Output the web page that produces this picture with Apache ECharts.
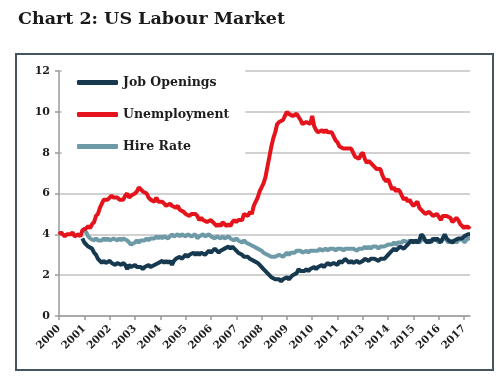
<!DOCTYPE html>
<html>
<head>
<meta charset="utf-8">
<script src="https://cdn.jsdelivr.net/npm/echarts@6/dist/echarts.min.js"></script>
<style>
html,body{margin:0;padding:0;background:#fff;}
#c{width:500px;height:381px;}
</style>
</head>
<body>
<div id="c"></div>
<script>
// Monthly categories: Jan 2000 .. Aug 2017
const startYear = 2000;
const monthCount = 212;
const categories = [];
for (let i = 0; i < monthCount; i++) {
  const y = startYear + Math.floor(i / 12);
  const m = (i % 12) + 1;
  categories.push(y + '-' + (m < 10 ? '0' + m : m));
}

const seriesNames = ['Job Openings', 'Unemployment', 'Hire Rate'];
const yTicks = [0, 2, 4, 6, 8, 10, 12];

// Unemployment rate, Jan 2000 .. Aug 2017
const unemployment = [
  4.0,4.1,4.0,3.9,4.0,4.0,4.0,4.1,3.9,3.9,4.0,3.9,
  4.2,4.2,4.3,4.4,4.3,4.5,4.6,4.9,5.0,5.3,5.5,5.7,
  5.7,5.7,5.7,5.9,5.8,5.8,5.8,5.7,5.7,5.7,5.9,6.0,
  5.8,5.9,5.9,6.0,6.1,6.3,6.2,6.1,6.1,6.0,5.8,5.7,
  5.7,5.6,5.8,5.6,5.6,5.6,5.5,5.4,5.4,5.5,5.4,5.4,
  5.3,5.4,5.2,5.2,5.1,5.0,5.0,4.9,5.0,5.0,5.0,4.9,
  4.7,4.8,4.7,4.7,4.6,4.6,4.7,4.7,4.5,4.4,4.5,4.4,
  4.6,4.5,4.4,4.5,4.4,4.6,4.7,4.6,4.7,4.7,4.7,5.0,
  5.0,4.9,5.1,5.0,5.4,5.6,5.8,6.1,6.1,6.5,6.8,7.3,
  7.8,8.3,8.7,9.0,9.4,9.5,9.5,9.6,9.8,10.0,9.9,9.9,
  9.8,9.8,9.9,9.9,9.6,9.4,9.4,9.5,9.5,9.4,9.8,9.3,
  9.1,9.0,9.0,9.1,9.0,9.1,9.0,9.0,9.0,8.8,8.6,8.5,
  8.3,8.3,8.2,8.2,8.2,8.2,8.2,8.0,7.8,7.8,7.7,7.9,
  8.0,7.7,7.5,7.6,7.5,7.5,7.3,7.2,7.2,7.2,6.9,6.7,
  6.6,6.7,6.7,6.2,6.3,6.1,6.2,6.1,5.9,5.7,5.8,5.6,
  5.7,5.5,5.4,5.4,5.6,5.3,5.2,5.1,5.0,5.0,5.1,5.0,
  4.9,4.9,5.0,5.0,4.7,4.9,4.9,4.9,4.9,4.8,4.6,4.7,
  4.8,4.7,4.5,4.4,4.3,4.4,4.3,4.4
];

// Job openings rate, Jan 2001 .. Aug 2017 (no data in 2000)
const jobOpenings = [
  null,null,null,null,null,null,null,null,null,null,null,null,
  3.8,3.6,3.6,3.4,3.4,3.3,3.1,3.0,2.8,2.7,2.6,2.7,
  2.6,2.6,2.7,2.6,2.6,2.5,2.6,2.6,2.5,2.6,2.5,2.3,
  2.5,2.4,2.4,2.5,2.4,2.4,2.4,2.3,2.4,2.4,2.5,2.4,
  2.4,2.5,2.5,2.6,2.6,2.7,2.6,2.7,2.6,2.7,2.5,2.7,
  2.8,2.8,2.9,2.8,2.9,3.0,2.9,3.0,3.0,3.1,3.0,3.1,
  3.0,3.1,3.1,3.0,3.1,3.2,3.1,3.2,3.3,3.2,3.1,3.2,
  3.2,3.3,3.3,3.4,3.3,3.4,3.3,3.2,3.1,3.1,3.0,2.9,
  2.9,2.9,2.8,2.8,2.7,2.7,2.6,2.5,2.4,2.3,2.2,2.1,
  2.0,1.9,1.9,1.8,1.8,1.8,1.7,1.8,1.8,1.9,1.8,1.9,
  2.0,2.0,2.1,2.3,2.2,2.2,2.2,2.3,2.2,2.3,2.3,2.4,
  2.3,2.4,2.4,2.5,2.4,2.5,2.6,2.5,2.5,2.6,2.6,2.5,
  2.7,2.6,2.7,2.8,2.7,2.6,2.7,2.6,2.6,2.7,2.6,2.6,
  2.7,2.8,2.8,2.7,2.8,2.8,2.8,2.8,2.7,2.8,2.8,2.8,
  2.9,3.0,3.1,3.1,3.3,3.2,3.3,3.4,3.4,3.3,3.4,3.5,
  3.5,3.7,3.6,3.7,3.6,3.7,4.0,3.9,3.7,3.6,3.7,3.6,
  3.8,3.7,3.8,3.7,3.6,3.8,4.0,3.8,3.7,3.7,3.6,3.7,
  3.7,3.8,3.8,3.8,3.9,3.9,4.0,4.0
];

// Hire rate, Jan 2001 .. Aug 2017
const hireRate = [
  null,null,null,null,null,null,null,null,null,null,null,null,
  4.3,4.2,4.1,3.9,3.8,3.8,3.7,3.8,3.7,3.7,3.7,3.8,
  3.7,3.8,3.7,3.7,3.8,3.8,3.7,3.8,3.7,3.8,3.8,3.7,
  3.6,3.5,3.5,3.6,3.7,3.6,3.7,3.7,3.7,3.8,3.7,3.8,
  3.8,3.8,3.9,3.8,3.9,3.8,3.9,3.9,3.8,3.9,4.0,3.9,
  3.9,4.0,3.9,4.0,4.0,3.9,4.0,4.0,3.9,3.9,4.0,3.8,
  3.9,3.9,4.0,3.9,3.9,4.0,3.9,3.9,3.8,3.9,3.9,3.8,
  3.9,3.8,3.8,3.9,3.8,3.8,3.7,3.8,3.7,3.7,3.6,3.7,
  3.6,3.6,3.5,3.5,3.4,3.4,3.3,3.3,3.2,3.1,3.1,3.0,
  3.0,2.9,2.9,2.9,2.9,3.0,3.0,2.9,3.0,3.1,3.0,3.1,
  3.1,3.1,3.2,3.2,3.2,3.1,3.1,3.2,3.1,3.2,3.2,3.2,
  3.2,3.2,3.3,3.2,3.2,3.3,3.2,3.3,3.3,3.3,3.2,3.3,
  3.3,3.3,3.2,3.3,3.3,3.3,3.3,3.3,3.3,3.2,3.3,3.3,
  3.3,3.4,3.3,3.4,3.3,3.4,3.4,3.4,3.3,3.4,3.4,3.4,
  3.4,3.5,3.5,3.5,3.6,3.5,3.6,3.6,3.6,3.7,3.7,3.6,
  3.7,3.7,3.6,3.7,3.7,3.6,3.7,3.8,3.7,3.7,3.6,3.7,
  3.7,3.8,3.7,3.6,3.7,3.7,3.8,3.7,3.6,3.7,3.6,3.7,
  3.6,3.7,3.7,3.8,3.6,3.7,3.8,3.8
];

const colors = { 'Job Openings': '#17394f', 'Unemployment': '#e5131b', 'Hire Rate': '#6e9aa8' };
const serif = 'DejaVu Serif';

const chart = echarts.init(document.getElementById('c'), null, { renderer: 'canvas' });
chart.setOption({
  animation: false,
  backgroundColor: '#ffffff',
  title: {
    text: 'Chart 2: US Labour Market',
    left: 13, top: 5,
    textStyle: { fontFamily: serif, fontWeight: 'bold', fontSize: 17.5, color: '#1a1a1a' }
  },
  graphic: [{
    type: 'rect', shape: { x: 16, y: 54, width: 477, height: 316 },
    style: { fill: 'none', stroke: '#44555f', lineWidth: 2 }, z: 0
  }],
  legend: {
    orient: 'vertical', left: 62, top: 67,
    padding: [9, 16, 8, 15],
    backgroundColor: '#ffffff',
    itemWidth: 41, itemHeight: 5, itemGap: 19,
    icon: 'roundRect',
    data: seriesNames,
    textStyle: { fontFamily: serif, fontWeight: 'bold', fontSize: 12.5, color: '#1e1e1e' }
  },
  grid: { left: 59, right: 30, top: 71, bottom: 65, containLabel: false },
  xAxis: {
    type: 'category', data: categories, boundaryGap: false,
    axisLine: { lineStyle: { color: '#9a9a9a', width: 1.5 } },
    axisTick: { show: true, interval: 12, length: 4, lineStyle: { color: '#9a9a9a', width: 1.5 } },
    axisLabel: {
      interval: 12, rotate: 45, margin: 11,
      fontFamily: serif, fontWeight: 'bold', fontSize: 10.5, color: '#1e1e1e',
      formatter: v => v.slice(0, 4)
    },
    splitLine: { show: false }
  },
  yAxis: {
    type: 'value', min: yTicks[0], max: yTicks[yTicks.length - 1], interval: 2,
    axisLine: { show: true, lineStyle: { color: '#9a9a9a', width: 1.5 } },
    axisTick: { show: true, length: 4, lineStyle: { color: '#9a9a9a', width: 1.5 } },
    axisLabel: { fontFamily: serif, fontWeight: 'bold', fontSize: 11, color: '#1e1e1e', margin: 9 },
    splitLine: { show: true, lineStyle: { color: '#c2c2c2', width: 1.5 } }
  },
  series: [
    { name: 'Hire Rate', type: 'line', data: hireRate, showSymbol: false, symbol: 'none', z: 2,
      color: colors['Hire Rate'], lineStyle: { width: 4, color: colors['Hire Rate'] } },
    { name: 'Unemployment', type: 'line', data: unemployment, showSymbol: false, symbol: 'none', z: 3,
      color: colors['Unemployment'], lineStyle: { width: 4, color: colors['Unemployment'] } },
    { name: 'Job Openings', type: 'line', data: jobOpenings, showSymbol: false, symbol: 'none', z: 4,
      color: colors['Job Openings'], lineStyle: { width: 4, color: colors['Job Openings'] } }
  ]
});
</script>
</body>
</html>
